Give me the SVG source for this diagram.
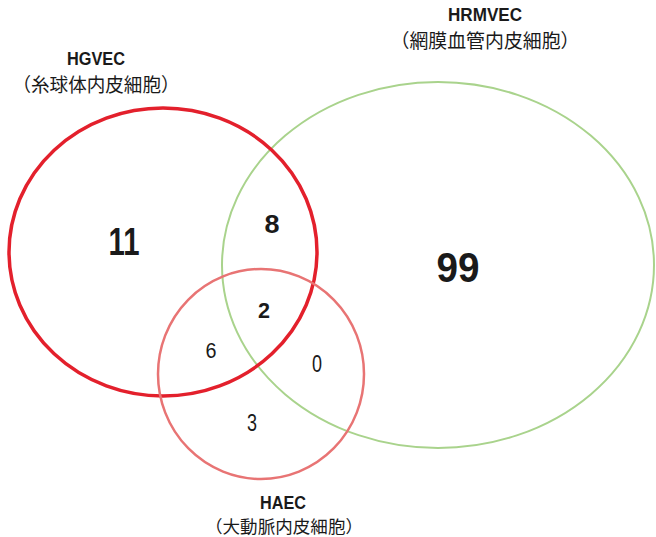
<svg xmlns="http://www.w3.org/2000/svg" width="656" height="537" viewBox="0 0 656 537">
<style>
.lbl{font-family:"Liberation Sans",Arial,sans-serif;font-weight:bold;fill:#1a1a1a;text-anchor:middle}
.jp{font-family:"Noto Sans CJK JP","Noto Sans CJK SC",sans-serif;fill:#1a1a1a;text-anchor:middle}
.nb{font-family:"Liberation Sans",Arial,sans-serif;font-weight:bold;fill:#1a1a1a;text-anchor:middle}
.nr{font-family:"Liberation Sans",Arial,sans-serif;fill:#1a1a1a;text-anchor:middle}
</style>
<rect width="656" height="537" fill="#ffffff"/>
<g id="HRMVEC">
<ellipse cx="438" cy="265" rx="216" ry="183" fill="none" stroke="#a9d38c" stroke-width="2"/>
<text class="lbl" x="485" y="21" font-size="19" textLength="74" lengthAdjust="spacingAndGlyphs">HRMVEC</text>
<text class="jp" x="485" y="48" font-size="19" textLength="189" lengthAdjust="spacingAndGlyphs">（網膜血管内皮細胞）</text>
<text class="nb" x="458" y="282" font-size="43" textLength="43" lengthAdjust="spacingAndGlyphs">99</text>
</g>
<g id="HGVEC">
<ellipse cx="163" cy="252" rx="154" ry="144" fill="none" stroke="#e3202c" stroke-width="3.5"/>
<text class="lbl" x="96" y="65" font-size="19" textLength="58" lengthAdjust="spacingAndGlyphs">HGVEC</text>
<text class="jp" x="96" y="92" font-size="19" textLength="167" lengthAdjust="spacingAndGlyphs">（糸球体内皮細胞）</text>
<text class="nb" x="124" y="255" font-size="38" textLength="31" lengthAdjust="spacingAndGlyphs">11</text>
</g>
<g id="HAEC">
<ellipse cx="261" cy="374" rx="103" ry="105" fill="none" stroke="#e87474" stroke-width="2.5"/>
<text class="lbl" x="283" y="509" font-size="18" textLength="46" lengthAdjust="spacingAndGlyphs">HAEC</text>
<text class="jp" x="284" y="533" font-size="17" textLength="158" lengthAdjust="spacingAndGlyphs">（大動脈内皮細胞）</text>
<text class="nr" x="252" y="431" font-size="24" textLength="10" lengthAdjust="spacingAndGlyphs">3</text>
</g>
<g id="overlaps">
<text class="nb" x="272" y="233" font-size="25" textLength="15" lengthAdjust="spacingAndGlyphs">8</text>
<text class="nb" x="264" y="318" font-size="22" textLength="12" lengthAdjust="spacingAndGlyphs">2</text>
<text class="nr" x="211" y="358" font-size="22" textLength="11" lengthAdjust="spacingAndGlyphs">6</text>
<text class="nr" x="317" y="372" font-size="23" textLength="10" lengthAdjust="spacingAndGlyphs">0</text>
</g>
<g id="connectors"></g>
</svg>
